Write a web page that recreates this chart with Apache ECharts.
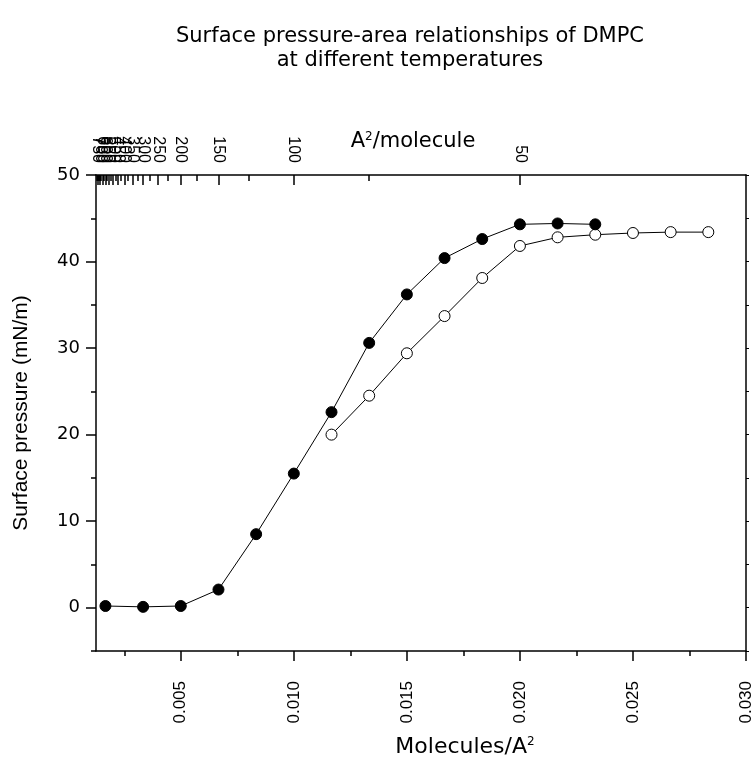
<!DOCTYPE html>
<html>
<head>
<meta charset="utf-8">
<script src="https://cdn.jsdelivr.net/npm/echarts@6/dist/echarts.min.js"></script>
<style>
html,body{margin:0;padding:0;background:#fff;}
#chart{width:753px;height:761px;}
</style>
</head>
<body>
<div id="chart"></div>
<script>
// ---- data ----
const titleLines = ['Surface pressure-area relationships of DMPC', 'at different temperatures'];
const filledX = [0.001667, 0.003333, 0.005, 0.006667, 0.008333, 0.010, 0.011667, 0.013333, 0.015, 0.016667, 0.018333, 0.020, 0.021667, 0.023333];
const filledY = [0.2, 0.1, 0.2, 2.1, 8.5, 15.5, 22.6, 30.6, 36.2, 40.4, 42.6, 44.3, 44.4, 44.3];
const openX = [0.011667, 0.013333, 0.015, 0.016667, 0.018333, 0.020, 0.021667, 0.023333, 0.025, 0.026667, 0.028333];
const openY = [20.0, 24.5, 29.4, 33.7, 38.1, 41.8, 42.8, 43.1, 43.3, 43.4, 43.4];
const bottomMajor = [0.005, 0.010, 0.015, 0.020, 0.025, 0.030];
const bottomMinor = [0.0025, 0.0075, 0.0125, 0.0175, 0.0225, 0.0275];
const topMajorArea = [50, 100, 150, 200, 250, 300, 350, 400, 450, 500, 550, 600, 650, 700, 750, 800];
const topMinorArea = [75, 125, 175, 225, 275, 325, 375, 425, 475, 525, 575, 625, 675, 725, 775];
const leftMajor = [0, 10, 20, 30, 40, 50];
const leftMinor = [-5, 5, 15, 25, 35, 45];

const X_MIN = 0.00125, X_MAX = 0.030, Y_MIN = -5, Y_MAX = 50;
const FONT = 'Liberation Sans';
const WIDE = 'DejaVu Sans';
const lineStyle = {color: '#000', width: 1.5};

const chart = echarts.init(document.getElementById('chart'), null, {renderer: 'canvas'});

function supRich(size) {
  return {
    n: {fontFamily: WIDE, fontSize: size, color: '#000'},
    s: {fontFamily: WIDE, fontSize: 12, color: '#000', verticalAlign: 'top', padding: [0, 0, 10, 0]}
  };
}

const hidden = {show: false};

const option = {
  animation: false,
  backgroundColor: '#fff',
  graphic: [
    {type: 'text', x: 410, y: 37, style: {text: titleLines[0], fontFamily: WIDE, fontSize: 21, fill: '#000', align: 'center', verticalAlign: 'middle'}},
    {type: 'text', x: 410, y: 61, style: {text: titleLines[1], fontFamily: WIDE, fontSize: 21, fill: '#000', align: 'center', verticalAlign: 'middle'}}
  ],
  grid: {left: 96, right: 7, top: 175, bottom: 110, containLabel: false, outerBoundsMode: 'none'},
  xAxis: [
    { // 0: bottom main
      type: 'value', position: 'bottom', min: X_MIN, max: X_MAX,
      name: '{n|Molecules/A}{s|2}', nameLocation: 'middle', nameGap: 85, nameMoveOverlap: false,
      nameTextStyle: {rich: supRich(22), padding: [0, 0, 0, 88]},
      axisLine: {show: true, lineStyle: lineStyle, onZero: false},
      axisTick: {show: true, customValues: bottomMajor, length: 10, lineStyle: lineStyle},
      axisLabel: {customValues: bottomMajor, rotate: 90, margin: 30, fontFamily: FONT, fontSize: 17, color: '#000',
        formatter: v => v.toFixed(3)},
      splitLine: hidden
    },
    { // 1: bottom minor ticks
      type: 'value', position: 'bottom', min: X_MIN, max: X_MAX,
      axisLine: {show: false, onZero: false},
      axisTick: {show: true, customValues: bottomMinor, length: 5, lineStyle: lineStyle},
      axisLabel: hidden, splitLine: hidden
    },
    { // 2: top major (reciprocal area axis)
      type: 'value', position: 'top', min: X_MIN, max: X_MAX,
      name: '{n|A}{s|2}{n|/molecule}', nameLocation: 'middle', nameGap: 22, nameMoveOverlap: false,
      nameTextStyle: {rich: supRich(21), padding: [0, 16, 0, 0]},
      axisLine: {show: true, lineStyle: lineStyle, onZero: false},
      axisTick: {show: true, inside: true, customValues: topMajorArea.map(a => 1 / a), length: 10, lineStyle: lineStyle},
      axisLabel: {customValues: topMajorArea.map(a => 1 / a), rotate: 90, margin: 12, fontFamily: FONT, fontSize: 16, color: '#000',
        formatter: v => String(Math.round(1 / v))},
      splitLine: hidden
    },
    { // 3: top minor ticks
      type: 'value', position: 'top', min: X_MIN, max: X_MAX,
      axisLine: {show: false, onZero: false},
      axisTick: {show: true, inside: true, customValues: topMinorArea.map(a => 1 / a), length: 6, lineStyle: lineStyle},
      axisLabel: hidden, splitLine: hidden
    }
  ],
  yAxis: [
    { // 0: left main
      type: 'value', position: 'left', min: Y_MIN, max: Y_MAX,
      name: 'Surface pressure (mN/m)', nameLocation: 'middle', nameGap: 64, nameMoveOverlap: false,
      nameTextStyle: {fontFamily: FONT, fontSize: 21, color: '#000'},
      axisLine: {show: true, lineStyle: lineStyle, onZero: false},
      axisTick: {show: true, customValues: leftMajor, length: 10, lineStyle: lineStyle},
      axisLabel: {customValues: leftMajor, margin: 16, fontFamily: WIDE, fontSize: 18, color: '#000'},
      splitLine: hidden
    },
    { // 1: left minor
      type: 'value', position: 'left', min: Y_MIN, max: Y_MAX,
      axisLine: {show: false, onZero: false},
      axisTick: {show: true, customValues: leftMinor, length: 5, lineStyle: lineStyle},
      axisLabel: hidden, splitLine: hidden
    },
    { // 2: right
      type: 'value', position: 'right', min: Y_MIN, max: Y_MAX,
      axisLine: {show: true, lineStyle: lineStyle, onZero: false},
      axisTick: {show: true, customValues: leftMajor.concat(leftMinor), length: 3, lineStyle: {color: '#000', width: 1}},
      axisLabel: hidden, splitLine: hidden
    }
  ],
  series: [
    {
      type: 'line', xAxisIndex: 0, yAxisIndex: 0,
      data: openX.map((x, i) => [x, openY[i]]),
      symbol: 'circle', symbolSize: 11, showAllSymbol: true,
      lineStyle: {color: '#000', width: 1},
      itemStyle: {color: '#fff', borderColor: '#000', borderWidth: 1},
      z: 3
    },
    {
      type: 'line', xAxisIndex: 0, yAxisIndex: 0,
      data: filledX.map((x, i) => [x, filledY[i]]),
      symbol: 'circle', symbolSize: 11, showAllSymbol: true,
      lineStyle: {color: '#000', width: 1},
      itemStyle: {color: '#000', borderColor: '#000', borderWidth: 1},
      z: 4
    }
  ]
};
chart.setOption(option);
</script>
</body>
</html>
